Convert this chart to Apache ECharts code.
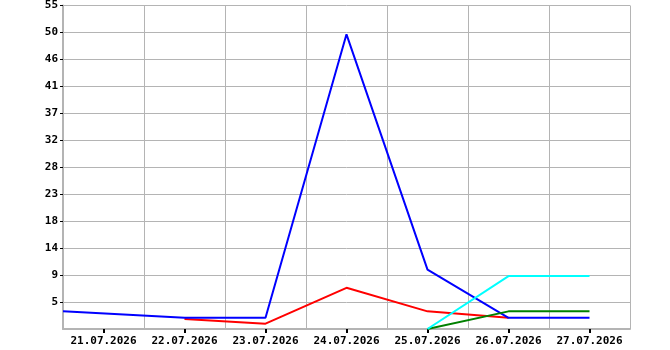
<!DOCTYPE html>
<html>
<head>
<meta charset="utf-8">
<script src="https://cdn.jsdelivr.net/npm/echarts@6/dist/echarts.min.js"></script>
<style>html,body{margin:0;padding:0;background:#fff}#c{width:670px;height:350px}</style>
</head>
<body>
<div id="c"></div>
<script>
// Data
var tickDates = ['21.07.2026','22.07.2026','23.07.2026','24.07.2026','25.07.2026','26.07.2026','27.07.2026'];
var yTickLabels = ['5','9','14','18','23','28','32','37','41','46','50','55'];

var redDates = ['22.07.2026','23.07.2026','24.07.2026','25.07.2026','26.07.2026'];
var redValues = [1.7, 0.9, 7.0, 3.0, 1.9];

var blueDates = ['20.07.2026 12:00','22.07.2026','23.07.2026','24.07.2026','25.07.2026','26.07.2026','27.07.2026'];
var blueValues = [3.0, 1.9, 1.9, 50.1, 10.1, 1.9, 1.9];

var greenDates = ['25.07.2026','26.07.2026','27.07.2026'];
var greenValues = [0, 3.0, 3.0];

var cyanDates = ['25.07.2026','26.07.2026','27.07.2026'];
var cyanValues = [0, 9.0, 9.0];

var xStart = '20.07.2026 12:00';
var xEnd = '27.07.2026 12:00';

function toDay(s) {
  var parts = s.split(' ');
  var d = parts[0].split('.');
  var h = 0, m = 0;
  if (parts[1]) { var t = parts[1].split(':'); h = +t[0]; m = +t[1]; }
  return Date.UTC(+d[2], +d[1] - 1, +d[0], h, m) / 86400000;
}
function fmtDay(v) {
  var dt = new Date(Math.round(v) * 86400000);
  var dd = ('0' + dt.getUTCDate()).slice(-2);
  var mm = ('0' + (dt.getUTCMonth() + 1)).slice(-2);
  return dd + '.' + mm + '.' + dt.getUTCFullYear();
}
function pairs(dates, vals) {
  return dates.map(function (d, i) { return [toDay(d), vals[i]]; });
}

var xMin = toDay(xStart), xMax = toDay(xEnd);
var tickVals = tickDates.map(toDay);
var font = {fontFamily: 'DejaVu Sans Mono', fontWeight: 'bold', fontSize: 11, color: '#000'};
var gridColor = '#b4b4b4';
var yMax = 55, yInt = 55 / 12;
var yTickVals = yTickLabels.map(function (l, i) { return yInt * (i + 1); });

var chart = echarts.init(document.getElementById('c'), null, {renderer: 'canvas'});
chart.setOption({
  animation: false,
  backgroundColor: '#fff',
  grid: {left: 63, right: 40, top: 5, bottom: 21, containLabel: false},
  xAxis: [
    {
      type: 'value', min: xMin, max: xMax,
      axisLine: {show: true, lineStyle: {color: gridColor, width: 2}},
      axisTick: {show: true, length: 4, lineStyle: {color: '#000', width: 2}, customValues: tickVals},
      axisLabel: Object.assign({show: true, margin: 7, customValues: tickVals,
        formatter: function (v) { return fmtDay(v); }}, font),
      splitLine: {show: false}
    },
    {
      type: 'value', min: xMin - 0.5, max: xMax - 0.5, interval: 1, position: 'bottom',
      axisLine: {show: false}, axisTick: {show: false}, axisLabel: {show: false},
      splitLine: {show: true, lineStyle: {color: gridColor, width: 1}}
    }
  ],
  yAxis: {
    type: 'value', min: 0, max: yMax, interval: yInt,
    axisLine: {show: true, lineStyle: {color: gridColor, width: 2}},
    axisTick: {show: true, length: 3, lineStyle: {color: '#000', width: 1}, customValues: yTickVals},
    axisLabel: Object.assign({margin: 5, customValues: yTickVals, formatter: function (v) {
      var i = Math.round(v / yInt);
      return i === 0 ? '' : yTickLabels[i - 1];
    }}, font),
    splitLine: {show: true, lineStyle: {color: gridColor, width: 1}}
  },
  series: [
    {type: 'line', data: pairs(redDates, redValues), color: '#ff0000', symbol: 'none', lineStyle: {width: 2, color: '#ff0000'}},
    {type: 'line', data: pairs(blueDates, blueValues), color: '#0000ff', symbol: 'none', lineStyle: {width: 2, color: '#0000ff'}},
    {type: 'line', data: pairs(greenDates, greenValues), color: '#008000', symbol: 'none', lineStyle: {width: 2, color: '#008000'}},
    {type: 'line', data: pairs(cyanDates, cyanValues), color: '#00ffff', symbol: 'none', lineStyle: {width: 2, color: '#00ffff'}}
  ]
});
</script>
</body>
</html>
